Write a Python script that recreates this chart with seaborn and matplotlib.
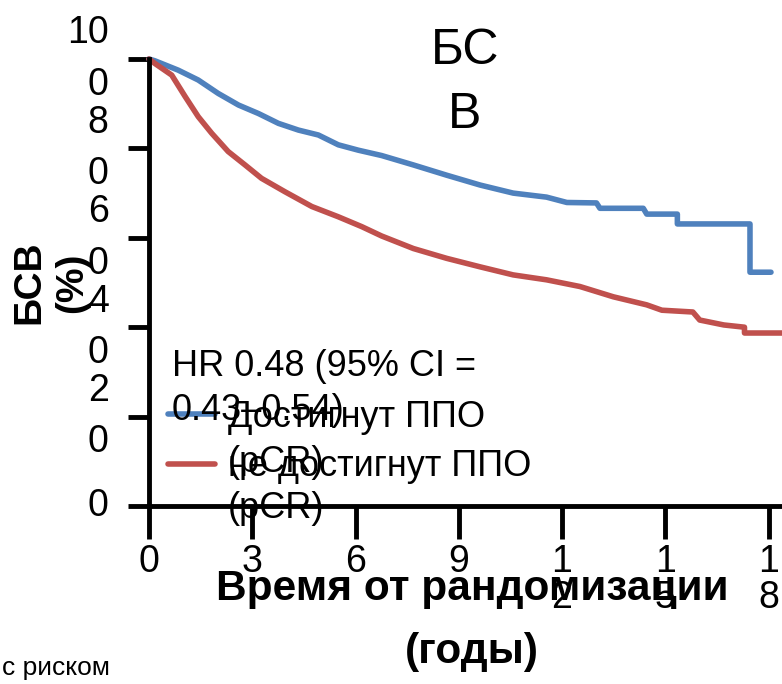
import numpy as np
import pandas as pd
import matplotlib
matplotlib.use("Agg")
import matplotlib.pyplot as plt
import seaborn as sns

# Kaplan-Meier curves (time in years, survival in %)
pcr_time = [0, 0.17, 0.85, 1.43, 2.01, 2.6, 3.18, 3.76, 4.34, 4.92, 5.5, 6.08, 6.76,
            7.68, 8.65, 9.62, 10.58, 11.55, 12.14, 13.0, 13.1, 14.36, 14.46, 15.35,
            15.35, 17.46, 17.46, 18.07]
pcr_surv = [100, 99.6, 97.5, 95.3, 92.3, 89.7, 87.8, 85.6, 84.1, 83.0, 80.8, 79.6, 78.4,
            76.3, 74.0, 71.8, 70.0, 69.1, 67.9, 67.8, 66.6, 66.6, 65.3, 65.3,
            63.1, 63.1, 52.3, 52.3]

no_pcr_time = [0, 0.17, 0.66, 1.05, 1.43, 1.82, 2.3, 2.79, 3.27, 3.95, 4.73, 5.5, 6.18,
               6.76, 7.68, 8.65, 9.62, 10.58, 11.55, 12.52, 13.49, 14.46, 14.9, 15.8,
               16.0, 16.7, 17.3, 17.3, 18.4]
no_pcr_surv = [100, 99.0, 96.4, 91.6, 87.1, 83.4, 79.3, 76.3, 73.3, 70.3, 67.0, 64.7, 62.5,
               60.4, 57.6, 55.4, 53.5, 51.7, 50.6, 49.1, 46.8, 45.0, 43.8, 43.4,
               41.6, 40.5, 40.0, 38.7, 38.7]

groups = ["Достигнут ППО", "не достигнут ППО"]
colors = ["#4F81BD", "#C0504D"]

x_ticks = [0, 3, 6, 9, 12, 15, 18]
x_ticklabels = ["0", "3", "6", "9", "1\n2", "1\n5", "1\n8"]
y_ticks = [0, 20, 40, 60, 80, 100]
y_ticklabels = ["0", "2\n0", "4\n0", "6\n0", "8\n0", "10\n0"]

title = "БС\nВ"
x_label = "Время от рандомизации\n(годы)"
y_label = "БСВ\n(%)"
hr_text = "HR 0.48 (95% CI =\n0.43–0.54)"
risk_text = "с риском"

df = pd.concat([
    pd.DataFrame({"t": pcr_time, "S": pcr_surv, "group": groups[0]}),
    pd.DataFrame({"t": no_pcr_time, "S": no_pcr_surv, "group": groups[1]}),
], ignore_index=True)

sns.set_theme(style="white")
plt.rcParams["font.family"] = ["Liberation Sans", "DejaVu Sans"]
plt.rcParams["text.color"] = "black"
plt.rcParams["axes.labelcolor"] = "black"

W, H = 782, 684
fig = plt.figure(figsize=(W / 100, H / 100), dpi=100)
ax = fig.add_axes([149 / W, 1 - 506 / H, 633 / W, 447 / H])

sns.lineplot(data=df, x="t", y="S", hue="group", palette=colors, estimator=None,
             sort=False, linewidth=4, ax=ax)
for ln in ax.lines:
    ln.set_clip_on(False)

ax.set_xlim(0, 18.39)
ax.set_ylim(0, 100)
ax.set_xticks(x_ticks, labels=x_ticklabels, linespacing=1.0)
ax.set_yticks(y_ticks, labels=y_ticklabels, va="center", linespacing=1.55)

sns.despine(ax=ax)
for side in ["left", "bottom"]:
    ax.spines[side].set_linewidth(3.5)
    ax.spines[side].set_color("black")
ax.tick_params(axis="y", left=True, direction="out", length=15, width=3.5, pad=14,
               labelsize=27, colors="black")
ax.tick_params(axis="x", bottom=True, direction="out", length=24, width=3.5, pad=3,
               labelsize=27, colors="black")

ax.set_xlabel(x_label, fontsize=30.5, fontweight="bold", linespacing=1.75)
ax.xaxis.set_label_coords(0.51, -0.14)
ax.set_ylabel(y_label, fontsize=28, fontweight="bold", linespacing=1.26, va="center")
ax.yaxis.set_label_coords(-0.155, 0.5)

fig.text(465 / W, 1 - 28 / H, title, ha="center", va="top",
         fontsize=36, linespacing=1.5)

# legend, squeezed like in the source slide
leg = ax.get_legend()
handles = leg.legend_handles
labels = [t.get_text() for t in leg.texts]
ax.legend(handles, labels, loc="upper left", bbox_to_anchor=(168 / W, 1 - 400 / H),
          bbox_transform=fig.transFigure, frameon=False, fontsize=26, borderpad=0,
          borderaxespad=0, handlelength=1.3, handletextpad=0.36, labelspacing=0.4)
fig.text(228 / W, 1 - 462 / H, "(pCR)", fontsize=26, va="center")
fig.text(228 / W, 1 - 508 / H, "(pCR)", fontsize=26, va="center")

fig.text(172 / W, 1 - 349 / H, hr_text, fontsize=26, va="top", linespacing=1.35)
fig.text(0.003, 1 - 668 / H, risk_text, fontsize=19, va="center")

fig.savefig("out.png", dpi=100)
